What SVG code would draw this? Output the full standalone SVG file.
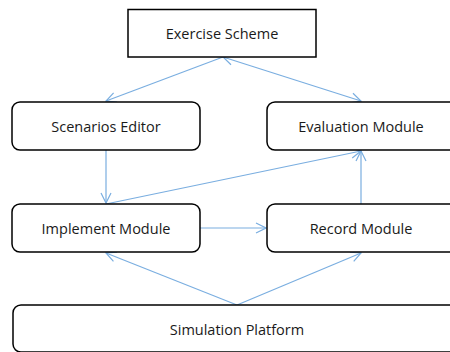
<svg xmlns="http://www.w3.org/2000/svg" width="450" height="352" viewBox="0 0 450 352">
<defs>
<style>
.box{fill:#fff;stroke:#000;stroke-width:1.5}
.lbl{font-family:"Open Sans","Liberation Sans",sans-serif;font-size:14.5px;fill:#1a1a1a;text-anchor:middle;dominant-baseline:central}
.con{stroke:#7aaee0;stroke-width:1.2;fill:none}
</style>
<marker id="ah" viewBox="0 0 12 12" refX="11" refY="6" markerWidth="12" markerHeight="12" markerUnits="userSpaceOnUse" orient="auto-start-reverse">
<path d="M1,1 L11,6 L1,11" fill="none" stroke="#7aaee0" stroke-width="1.2"/>
</marker>
</defs>
<rect width="450" height="352" fill="#fff"/>
<g id="connectors">
<line class="con" x1="223" y1="57" x2="106" y2="101" marker-end="url(#ah)"/>
<line class="con" x1="223" y1="57" x2="361" y2="101" marker-start="url(#ah)" marker-end="url(#ah)"/>
<line class="con" x1="106" y1="150" x2="106" y2="203" marker-end="url(#ah)"/>
<line class="con" x1="106" y1="204" x2="361" y2="151" marker-end="url(#ah)"/>
<line class="con" x1="361" y1="204" x2="361" y2="151" marker-end="url(#ah)"/>
<line class="con" x1="200" y1="228" x2="266" y2="228" marker-end="url(#ah)"/>
<line class="con" x1="237" y1="305" x2="106" y2="253" marker-end="url(#ah)"/>
<line class="con" x1="237" y1="305" x2="361" y2="253" marker-end="url(#ah)"/>
</g>
<g id="exercise-scheme">
<rect class="box" x="128" y="9.5" width="188" height="47.5"/>
<text class="lbl" x="222" y="33">Exercise Scheme</text>
</g>
<g id="scenarios-editor">
<rect class="box" x="12" y="102" width="188" height="48" rx="8"/>
<text class="lbl" x="106" y="126">Scenarios Editor</text>
</g>
<g id="evaluation-module">
<rect class="box" x="267" y="102" width="200" height="48" rx="8"/>
<text class="lbl" x="361" y="126">Evaluation Module</text>
</g>
<g id="implement-module">
<rect class="box" x="12" y="204" width="188" height="48" rx="8"/>
<text class="lbl" x="106" y="228">Implement Module</text>
</g>
<g id="record-module">
<rect class="box" x="267" y="204" width="200" height="48" rx="8"/>
<text class="lbl" x="361" y="228">Record Module</text>
</g>
<g id="simulation-platform">
<rect class="box" x="13" y="305" width="460" height="47" rx="8"/>
<text class="lbl" x="237" y="329">Simulation Platform</text>
</g>
</svg>
